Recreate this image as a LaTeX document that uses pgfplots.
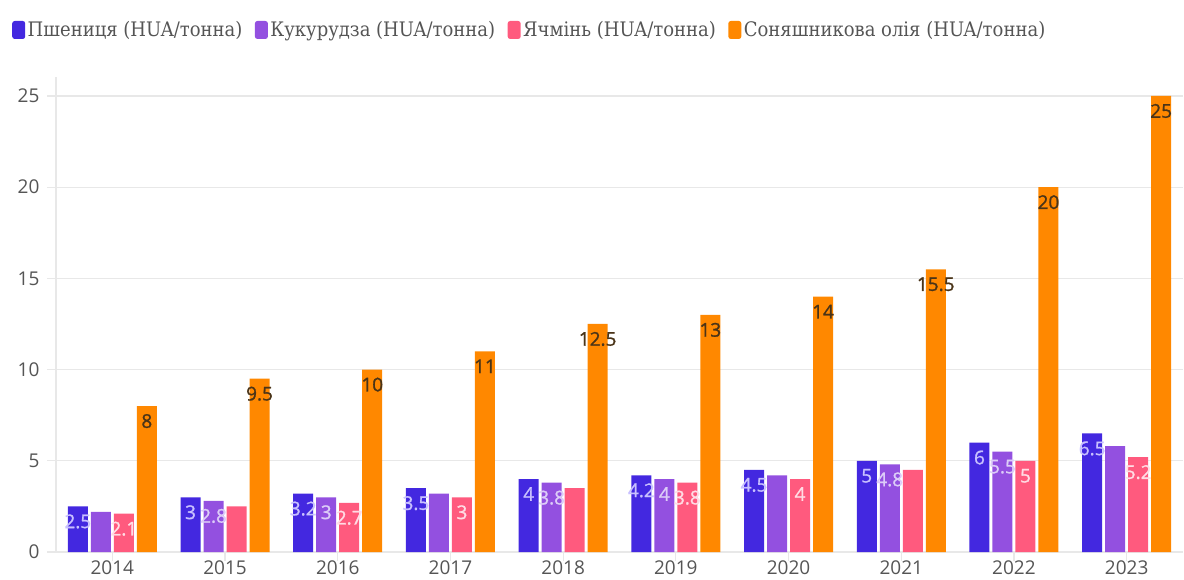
\documentclass[border=0pt]{standalone}
\usepackage{pgfplots}
\pgfplotsset{compat=1.18}
\usepackage{fontspec}
\setmainfont{Open Sans}
\newfontfamily\lblfont{Open Sans}[FakeBold=1.2]
\newfontfamily\legfont[FakeStretch=0.9]{DejaVu Serif}
\definecolor{cwheat}{HTML}{4328E0}
\definecolor{ccorn}{HTML}{9350E0}
\definecolor{cbarley}{HTML}{FF5A7E}
\definecolor{csun}{HTML}{FF8800}
\definecolor{lwheat}{HTML}{C8C0FF}
\definecolor{lcorn}{HTML}{DCCCF8}
\definecolor{lbarley}{HTML}{FFDCE4}
\definecolor{lsun}{HTML}{4A3418}
\definecolor{gridc}{HTML}{E8E8E8}
\definecolor{tickc}{HTML}{555555}
\begin{document}
\begin{tikzpicture}
\begin{axis}[
  scale only axis,
  width=1127pt, height=475pt,
  xmin=-0.5, xmax=9.5,
  ymin=0, ymax=26.04,
  ybar=3pt, bar width=20pt,
  axis x line*=bottom, axis y line*=left,
  axis line style={draw=gridc, line width=1.2pt},
  xtick=data,
  xticklabels={2014,2015,2016,2017,2018,2019,2020,2021,2022,2023},
  ytick={0,5,10,15,20,25},
  ymajorgrids, major grid style={draw=gridc, line width=1.2pt},
  tick style={draw=gridc, line width=1.2pt},
  tick align=outside,
  major tick length=9pt,
  /pgf/number format/assume math mode=true,
  ticklabel style={font=\fontsize{19}{22}\selectfont, text=tickc},
  yticklabel style={xshift=-4pt},
  xticklabel style={yshift=4pt},
  enlarge x limits=false,
  point meta=explicit symbolic,
  nodes near coords={\pgfplotspointmeta},
  every node near coord/.append style={font=\lblfont\fontsize{19}{22}\selectfont, anchor=center, inner sep=0pt, yshift=-15pt},
  legend columns=4,
  legend style={draw=none, fill=none, at={(rel axis cs:-0.0390,1.0990)}, anchor=west,
    font=\legfont\fontsize{20}{23}\selectfont, text=tickc,
    inner sep=0pt, nodes={inner xsep=2.5pt, inner ysep=0pt},
    /tikz/every even column/.append style={column sep=10pt}},
  legend image code/.code={\fill[#1,draw=none] (0pt,-9pt) [rounded corners=2.5pt] rectangle (13pt,9pt);},
]
\addplot[fill=cwheat, draw=none, every node near coord/.append style={text=lwheat}] coordinates {
 (0,2.5) [2.5] (1,3) [3] (2,3.2) [3.2] (3,3.5) [3.5] (4,4) [4]
 (5,4.2) [4.2] (6,4.5) [4.5] (7,5) [5] (8,6) [6] (9,6.5) [6.5]};
\addlegendentry{Пшениця (HUA/тонна)}
\addplot[fill=ccorn, draw=none, every node near coord/.append style={text=lcorn}] coordinates {
 (0,2.2) [{}] (1,2.8) [2.8] (2,3) [3] (3,3.2) [{}] (4,3.8) [3.8]
 (5,4) [4] (6,4.2) [{}] (7,4.8) [4.8] (8,5.5) [5.5] (9,5.8) [{}]};
\addlegendentry{Кукурудза (HUA/тонна)}
\addplot[fill=cbarley, draw=none, every node near coord/.append style={text=lbarley}] coordinates {
 (0,2.1) [2.1] (1,2.5) [{}] (2,2.7) [2.7] (3,3) [3] (4,3.5) [{}]
 (5,3.8) [3.8] (6,4) [4] (7,4.5) [{}] (8,5) [5] (9,5.2) [5.2]};
\addlegendentry{Ячмінь (HUA/тонна)}
\addplot[fill=csun, draw=none, every node near coord/.append style={text=lsun}] coordinates {
 (0,8) [8] (1,9.5) [9.5] (2,10) [10] (3,11) [11] (4,12.5) [12.5]
 (5,13) [13] (6,14) [14] (7,15.5) [15.5] (8,20) [20] (9,25) [25]};
\addlegendentry{Соняшникова олія (HUA/тонна)}
\coordinate (BL) at (rel axis cs:-0.04969,-0.05684);
\coordinate (TR) at (rel axis cs:1.00089,1.16211);
\end{axis}
\pgfresetboundingbox
\path[use as bounding box] (BL) rectangle (TR);
\end{tikzpicture}
\end{document}
